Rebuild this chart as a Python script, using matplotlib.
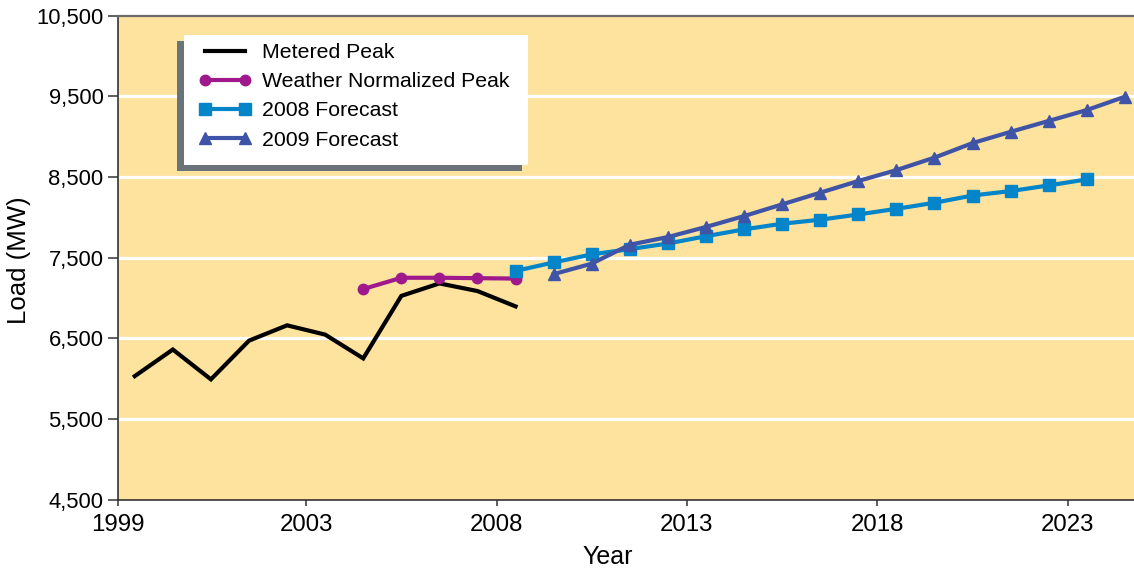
import matplotlib
matplotlib.use("Agg")
import matplotlib.pyplot as plt
from matplotlib.patches import Rectangle

plt.rcParams["font.family"] = ["Liberation Sans", "DejaVu Sans"]

# ---- data -------------------------------------------------------------
metered_years = list(range(1998, 2009))
metered_load = [6030, 6360, 5990, 6470, 6660, 6545, 6250, 7025, 7180, 7085, 6895]

normalized_years = list(range(2004, 2009))
normalized_load = [7110, 7250, 7250, 7245, 7240]

fc2008_years = list(range(2008, 2024))
fc2008_load = [7335, 7440, 7540, 7605, 7675, 7765, 7850, 7920,
               7970, 8035, 8105, 8180, 8270, 8325, 8395, 8470]

fc2009_years = list(range(2009, 2025))
fc2009_load = [7295, 7425, 7660, 7755, 7880, 8015, 8160, 8305,
               8450, 8585, 8740, 8920, 9060, 9195, 9330, 9495]

x_tick_labels = ["1999", "2003", "2008", "2013", "2018", "2023"]
y_ticks = [4500, 5500, 6500, 7500, 8500, 9500, 10500]

# ---- figure -----------------------------------------------------------
W, H = 1134, 569
fig = plt.figure(figsize=(W / 100, H / 100), dpi=100)
fig.patch.set_facecolor("white")

ax_left, ax_right, ax_top, ax_bottom = 118, 1134, 15.7, 499.5
ax = fig.add_axes([ax_left / W, 1 - ax_bottom / H,
                   (ax_right - ax_left) / W, (ax_bottom - ax_top) / H])
ax.set_facecolor("#FEE39F")

X_MIN, X_MAX = 1997.56, 2024.24
ax.set_xlim(X_MIN, X_MAX)
ax.set_ylim(4500, 10500)

# horizontal white grid
for v in y_ticks[1:-1]:
    ax.axhline(v, color="white", lw=2.3, zorder=1)

lw = 3.0
ax.plot(metered_years, metered_load, color="black", lw=lw,
        solid_joinstyle="miter", zorder=3, label="Metered Peak")
ax.plot(normalized_years, normalized_load, color="#A0198C", lw=lw,
        marker="o", ms=7.5, zorder=4, label="Weather Normalized Peak")
ax.plot(fc2008_years, fc2008_load, color="#0484C9", lw=lw,
        marker="s", ms=8, zorder=5, label="2008 Forecast")
ax.plot(fc2009_years, fc2009_load, color="#3F54A6", lw=lw,
        marker="^", ms=8.5, zorder=6, label="2009 Forecast")

# axes styling
ax.spines["right"].set_visible(False)
ax.spines["top"].set_color("#6A6A6A")
ax.spines["top"].set_linewidth(1.6)
ax.spines["left"].set_color("#333333")
ax.spines["left"].set_linewidth(1.2)
ax.spines["bottom"].set_color("#333333")
ax.spines["bottom"].set_linewidth(1.2)

x_tick_pos = [X_MIN] + [int(t) - 0.5 for t in x_tick_labels[1:]]
ax.set_xticks(x_tick_pos)
ax.set_xticklabels(x_tick_labels, fontsize=17.3)
ax.set_yticks(y_ticks)
ax.set_yticklabels([f"{v:,}" for v in y_ticks], fontsize=15.8)
ax.tick_params(axis="x", direction="out", length=4, width=1.1,
               color="#333333", pad=6.5)
ax.tick_params(axis="y", direction="out", length=7, width=1.1,
               color="#333333", pad=3.5)

fig.text(19 / W, 1 - 260 / H, "Load (MW)", rotation=90, ha="center",
         va="center", fontsize=18.5)
fig.text(608 / W, 1 - 557 / H, "Year", ha="center", va="center",
         fontsize=18)

# legend panel with offset drop shadow
def fig_rect(x0, y0, x1, y1, **kw):
    return Rectangle((x0 / W, 1 - y1 / H), (x1 - x0) / W, (y1 - y0) / H,
                     transform=fig.transFigure, **kw)

fig.patches.append(fig_rect(177, 41, 522, 171, facecolor="#6B737A",
                            edgecolor="none", zorder=10))
fig.patches.append(fig_rect(184, 35, 528, 165, facecolor="white",
                            edgecolor="none", zorder=11))

leg = fig.legend(loc="upper left", bbox_to_anchor=(199 / W, 1 - 43 / H),
                 frameon=False, borderpad=0, borderaxespad=0,
                 handlelength=2.45, handletextpad=0.5, labelspacing=0.48,
                 fontsize=15.3, numpoints=2)
leg.set_zorder(12)

fig.savefig("out.png", dpi=100, facecolor="white")
